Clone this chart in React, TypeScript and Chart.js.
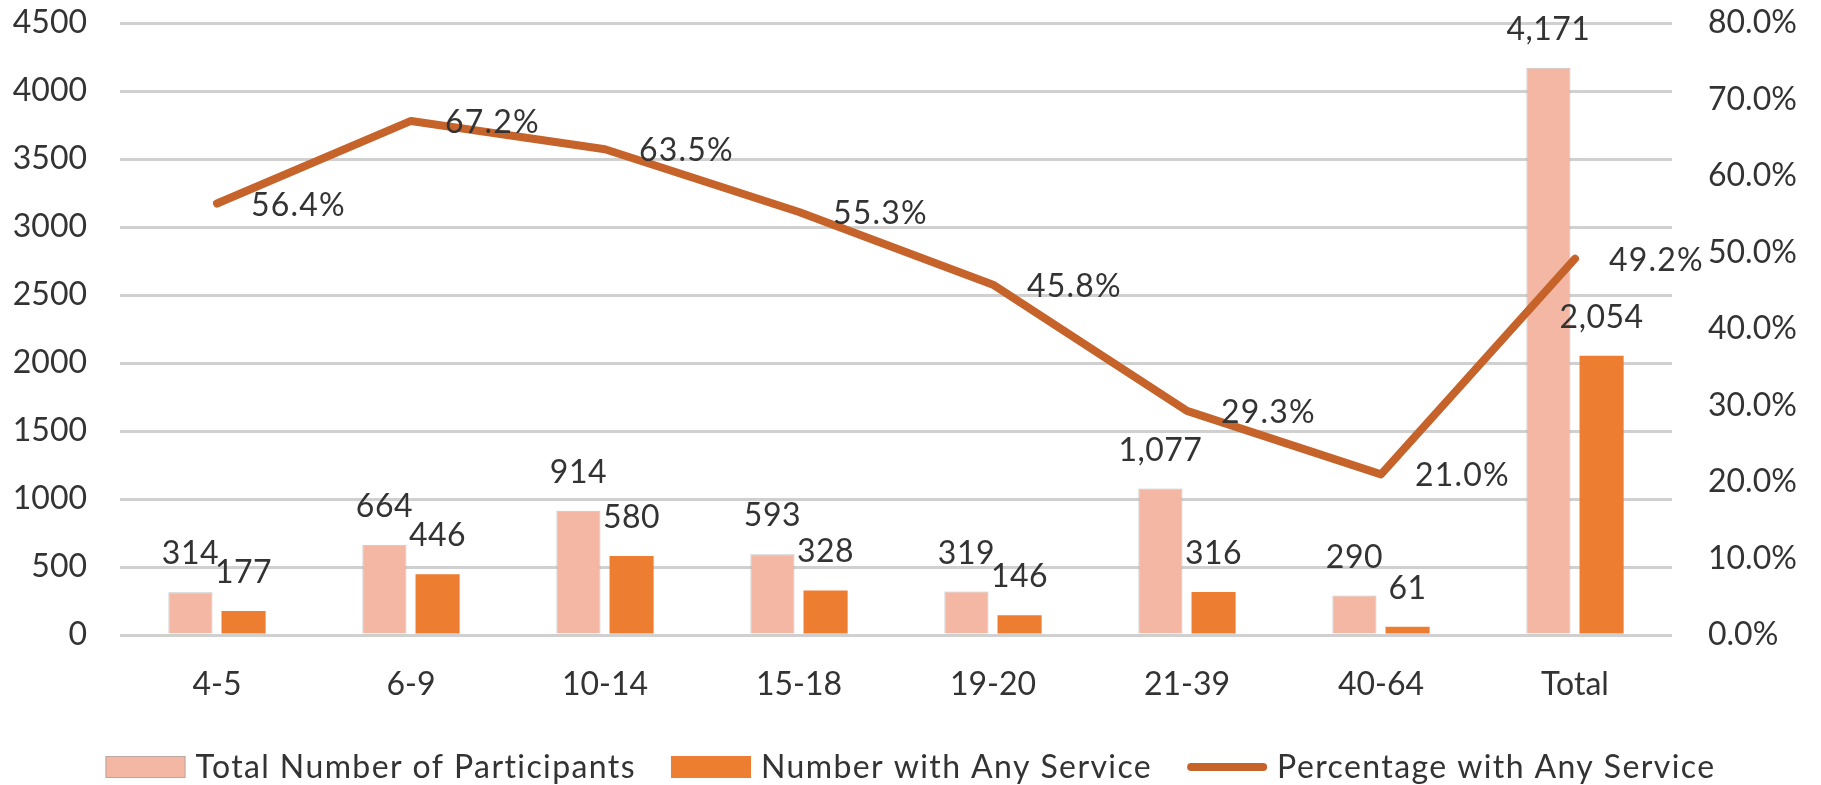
import React, { useEffect, useRef } from "react";
import { Chart, registerables } from "chart.js";

Chart.register(...registerables);

const categories = ["4-5", "6-9", "10-14", "15-18", "19-20", "21-39", "40-64", "Total"];
const totalParticipants = [314, 664, 914, 593, 319, 1077, 290, 4171];
const withAnyService = [177, 446, 580, 328, 146, 316, 61, 2054];
const percentWithService = [56.4, 67.2, 63.5, 55.3, 45.8, 29.3, 21.0, 49.2];
const leftTicks = [0, 500, 1000, 1500, 2000, 2500, 3000, 3500, 4000, 4500];
const rightTicks = [0, 10, 20, 30, 40, 50, 60, 70, 80];

const seriesNames = [
  "Total Number of Participants",
  "Number with Any Service",
  "Percentage with Any Service",
];

const FONT = "Lato, 'Noto Sans', sans-serif";
const FONT_SIZE = 32;
const TEXT = "#333333";
const PINK = "#F4B7A3";
const ORANGE = "#ED7D31";
const LINE = "#C6632A";
const GRID = "#D0D0D0";

const labelPlugin = {
  id: "valueLabels",
  afterDatasetsDraw(chart: any) {
    const ctx = chart.ctx;
    ctx.save();
    ctx.font = `${FONT_SIZE}px ${FONT}`;
    ctx.fillStyle = TEXT;
    chart.data.datasets.forEach((ds: any, i: number) => {
      const meta = chart.getDatasetMeta(i);
      meta.data.forEach((el: any, j: number) => {
        const v = ds.data[j];
        if (ds.type === "line") {
          ctx.letterSpacing = "1.2px";
          ctx.textAlign = "left";
          ctx.textBaseline = "alphabetic";
          ctx.fillText(v.toFixed(1) + "%", el.x + 34, el.y + 12);
        } else {
          ctx.letterSpacing = "0.5px";
          ctx.textAlign = "center";
          ctx.textBaseline = "alphabetic";
          ctx.fillText(v.toLocaleString("en-US"), el.x, el.y - 28);
        }
      });
    });
    ctx.restore();
  },
};

const legendPlugin = {
  id: "customLegend",
  afterDraw(chart: any) {
    const ctx = chart.ctx;
    ctx.save();
    ctx.font = `${FONT_SIZE}px ${FONT}`;
    ctx.letterSpacing = "1.4px";
    const boxW = 80;
    const boxH = 22;
    const gapText = 10;
    const gapItem = 35;
    const widths = seriesNames.map((n) => ctx.measureText(n).width);
    const total =
      widths.reduce((a, b) => a + b, 0) + 3 * (boxW + gapText) + 2 * gapItem;
    let x = (chart.width - total) / 2;
    const cy = 767;
    seriesNames.forEach((name, i) => {
      if (i < 2) {
        ctx.fillStyle = i === 0 ? PINK : ORANGE;
        ctx.fillRect(x, cy - boxH / 2, boxW, boxH);
        if (i === 0) {
          ctx.strokeStyle = "rgba(160,160,160,0.7)";
          ctx.lineWidth = 1;
          ctx.strokeRect(x + 0.5, cy - boxH / 2 + 0.5, boxW - 1, boxH - 1);
        }
      } else {
        ctx.strokeStyle = LINE;
        ctx.lineWidth = 8;
        ctx.lineCap = "round";
        ctx.beginPath();
        ctx.moveTo(x + 4, cy);
        ctx.lineTo(x + boxW - 4, cy);
        ctx.stroke();
      }
      x += boxW + gapText;
      ctx.fillStyle = TEXT;
      ctx.textAlign = "left";
      ctx.textBaseline = "alphabetic";
      ctx.fillText(name, x, cy + 11);
      x += widths[i] + gapItem;
    });
    ctx.restore();
  },
};

const zeroPad = (s: any) => {
  s.paddingTop = 0;
  s.paddingBottom = 0;
  s.paddingLeft = 0;
  s.paddingRight = 0;
};

export default function App() {
  const canvasRef = useRef<HTMLCanvasElement | null>(null);

  useEffect(() => {
    document.body.style.margin = "0";
    document.body.style.overflow = "hidden";
    const canvas = canvasRef.current;
    if (!canvas) return;
    const chart = new Chart(canvas, {
      type: "bar",
      data: {
        labels: categories,
        datasets: [
          {
            type: "line",
            label: seriesNames[2],
            data: percentWithService,
            yAxisID: "y1",
            borderColor: LINE,
            backgroundColor: LINE,
            borderWidth: 8,
            borderCapStyle: "round",
            borderJoinStyle: "round",
            pointRadius: 0,
            tension: 0,
            order: 0,
          } as any,
          {
            type: "bar",
            label: seriesNames[0],
            data: totalParticipants,
            yAxisID: "y",
            backgroundColor: PINK,
            borderColor: "rgba(170,170,170,0.7)",
            borderWidth: 1,
            categoryPercentage: 0.548,
            barPercentage: 0.83,
            order: 1,
          },
          {
            type: "bar",
            label: seriesNames[1],
            data: withAnyService,
            yAxisID: "y",
            backgroundColor: ORANGE,
            borderWidth: 0,
            categoryPercentage: 0.548,
            barPercentage: 0.83,
            order: 2,
          },
        ],
      },
      options: {
        animation: false,
        responsive: true,
        maintainAspectRatio: false,
        layout: { padding: { top: 23, left: 0, right: 0, bottom: 0 } },
        plugins: {
          legend: { display: false },
          tooltip: { enabled: false },
        },
        scales: {
          x: {
            grid: { display: false, drawTicks: false },
            border: { display: false },
            ticks: {
              color: TEXT,
              font: { family: FONT, size: FONT_SIZE },
              padding: 30,
              maxRotation: 0,
              autoSkip: false,
            },
            afterFit: (s: any) => {
              s.height = 150;
              zeroPad(s);
            },
          },
          y: {
            position: "left",
            min: 0,
            max: 4500,
            afterBuildTicks: (s: any) => {
              s.ticks = leftTicks.map((v) => ({ value: v }));
            },
            grid: { color: GRID, lineWidth: 3, drawTicks: false },
            border: { display: false },
            ticks: {
              color: TEXT,
              font: { family: FONT, size: FONT_SIZE },
              padding: 33,
              callback: (v: any) => String(v),
            },
            afterFit: (s: any) => {
              s.width = 120;
              zeroPad(s);
            },
          },
          y1: {
            position: "right",
            min: 0,
            max: 80,
            afterBuildTicks: (s: any) => {
              s.ticks = rightTicks.map((v) => ({ value: v }));
            },
            grid: { display: false, drawTicks: false },
            border: { display: false },
            ticks: {
              color: TEXT,
              font: { family: FONT, size: FONT_SIZE },
              padding: 36,
              callback: (v: any) => Number(v).toFixed(1) + "%",
            },
            afterFit: (s: any) => {
              s.width = 149;
              zeroPad(s);
            },
          },
        },
      },
      plugins: [labelPlugin, legendPlugin],
    });
    return () => chart.destroy();
  }, []);

  return (
    <div style={{ width: "1821px", height: "785px", position: "relative" }}>
      <canvas ref={canvasRef} />
    </div>
  );
}
